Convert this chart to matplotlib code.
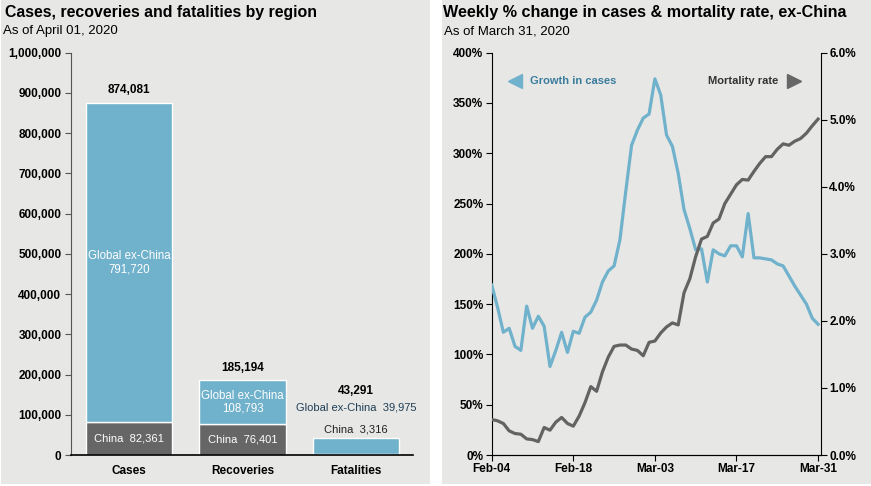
import matplotlib.pyplot as plt
import matplotlib.patches as mpatches
from matplotlib.ticker import FuncFormatter
import numpy as np

plt.rcParams['font.family'] = ['Liberation Sans', 'DejaVu Sans']

# Left panel data
categories = ['Cases', 'Recoveries', 'Fatalities']
china = [82361, 76401, 3316]
global_ex_china = [791720, 108793, 39975]
totals = [874081, 185194, 43291]

# Right panel data (daily, Feb-04 .. Mar-31)
growth_cases = [169, 147, 122, 126, 108, 104, 148, 126, 138, 128,
                88, 104, 122, 102, 123, 121, 137, 142, 154, 172,
                183, 188, 214, 262, 308, 323, 335, 339, 374, 358,
                318, 307, 280, 244, 225, 204, 205, 172, 204, 200,
                198, 208, 208, 197, 240, 196, 196, 195, 194, 190,
                188, 178, 168, 159, 150, 136, 130]
mortality = [0.53, 0.51, 0.47, 0.36, 0.32, 0.31, 0.24, 0.23, 0.20, 0.41,
             0.37, 0.49, 0.56, 0.47, 0.43, 0.58, 0.78, 1.02, 0.95, 1.24,
             1.46, 1.62, 1.64, 1.64, 1.58, 1.56, 1.48, 1.68, 1.70, 1.82,
             1.91, 1.97, 1.94, 2.42, 2.63, 2.96, 3.22, 3.26, 3.46, 3.52,
             3.75, 3.89, 4.03, 4.11, 4.10, 4.23, 4.35, 4.45, 4.45, 4.56,
             4.64, 4.62, 4.68, 4.72, 4.80, 4.91, 5.01]
date_ticks = [0, 14, 28, 42, 56]
date_labels = ['Feb-04', 'Feb-18', 'Mar-03', 'Mar-17', 'Mar-31']

BLUE = '#70b1cb'
DARK = '#666666'
BG = '#e7e7e6'
W, H = 871, 486

fig = plt.figure(figsize=(W / 100, H / 100), dpi=100)
fig.patch.set_facecolor('white')


def px(x0, y0, x1, y1):
    # pixel box (top-left origin) -> figure fraction rect
    return [x0 / W, 1 - y1 / H, (x1 - x0) / W, (y1 - y0) / H]


for x0, x1 in [(1, 430), (442, 871)]:
    fig.patches.append(mpatches.Rectangle((x0 / W, 1 - 484 / H), (x1 - x0) / W, 484 / H,
                                          transform=fig.transFigure, facecolor=BG,
                                          edgecolor='none', zorder=-10))

# Titles
fig.text(5 / W, 1 - 12 / H, 'Cases, recoveries and fatalities by region', fontsize=11.4,
         fontweight='bold', va='center', ha='left')
fig.text(3 / W, 1 - 31 / H, 'As of April 01, 2020', fontsize=9.5, va='center', ha='left')
fig.text(443 / W, 1 - 12 / H, 'Weekly % change in cases & mortality rate, ex-China',
         fontsize=11.6, fontweight='bold', va='center', ha='left')
fig.text(444 / W, 1 - 31 / H, 'As of March 31, 2020', fontsize=9.5, va='center', ha='left')

# ---- Left: stacked bars ----
ax = fig.add_axes(px(71, 52.7, 413, 455))
ax.set_facecolor('none')
x = np.arange(len(categories))
ax.bar(x, china, width=0.76, color=DARK, edgecolor='white', linewidth=1)
ax.bar(x, global_ex_china, bottom=china, width=0.76, color=BLUE, edgecolor='white', linewidth=1)
ax.set_xlim(-0.51, 2.5)
ax.set_ylim(0, 1000000)
ax.set_yticks(np.arange(0, 1000001, 100000))
ax.yaxis.set_major_formatter(FuncFormatter(lambda v, p: f'{int(v):,}'))
ax.set_xticks(x)
ax.set_xticklabels(categories)
for s in ['top', 'right']:
    ax.spines[s].set_visible(False)
ax.spines['left'].set_color('#555555')
ax.spines['bottom'].set_color('black')
ax.spines['bottom'].set_linewidth(1.2)
ax.tick_params(axis='y', length=4, color='#555555', pad=3)
ax.tick_params(axis='x', length=0, pad=7)
for lab in ax.get_xticklabels() + ax.get_yticklabels():
    lab.set_fontsize(8.5)
    lab.set_fontweight('bold')

for i in range(2):
    ax.text(x[i], china[i] / 2, f'China  {china[i]:,}', ha='center', va='center',
            color='white', fontsize=8)
    ax.text(x[i], china[i] + global_ex_china[i] / 2, f'Global ex-China\n{global_ex_china[i]:,}',
            ha='center', va='center', color='white', fontsize=8.3, linespacing=1.1)
    ax.text(x[i], totals[i] + 32000, f'{totals[i]:,}', ha='center', va='center',
            fontsize=8.5, fontweight='bold')
ax.text(x[2], 64000, f'China  {china[2]:,}', ha='center', va='center',
        color='#222222', fontsize=8)
ax.text(x[2], 117000, f'Global ex-China  {global_ex_china[2]:,}', ha='center', va='center',
        color='#1f3f55', fontsize=8)
ax.text(x[2], 159000, f'{totals[2]:,}', ha='center', va='center',
        fontsize=8.5, fontweight='bold')

# ---- Right: dual-axis lines ----
days = np.arange(len(growth_cases))
ax2 = fig.add_axes(px(491.7, 52.7, 821, 455))
ax2.set_facecolor('none')
ax2.plot(days, growth_cases, color=BLUE, linewidth=2.3, zorder=3)
ax2.set_xlim(0, 56.5)
ax2.set_ylim(0, 400)
ax2.set_yticks(np.arange(0, 401, 50))
ax2.yaxis.set_major_formatter(FuncFormatter(lambda v, p: f'{int(v)}%'))
ax2.set_xticks(date_ticks)
ax2.set_xticklabels(date_labels)
ax2.spines['top'].set_visible(False)
ax2.spines['right'].set_visible(False)
ax2.tick_params(axis='y', length=4, pad=2)
ax2.tick_params(axis='x', length=4, pad=2)

ax3 = ax2.twinx()
ax3.plot(days, mortality, color='#636363', linewidth=2.3, zorder=3)
ax3.set_ylim(0, 6)
ax3.set_yticks(np.arange(0, 6.01, 1))
ax3.yaxis.set_major_formatter(FuncFormatter(lambda v, p: f'{v:.1f}%'))
ax3.spines['top'].set_visible(False)
ax3.spines['left'].set_visible(False)
ax3.tick_params(axis='y', length=4, pad=2)
for a in (ax2, ax3):
    for lab in a.get_xticklabels() + a.get_yticklabels():
        lab.set_fontsize(8.5)
        lab.set_fontweight('bold')

# legend-like labels with arrows
ax2.plot([3.95], [371.5], marker='<', markersize=10, color=BLUE, clip_on=False)
ax2.text(6.6, 371.5, 'Growth in cases', color='#3a7c9c', fontsize=8, fontweight='bold',
         va='center', ha='left')
ax2.plot([51.8], [371.5], marker='>', markersize=10, color=DARK, clip_on=False)
ax2.text(49.2, 371.5, 'Mortality rate', color='#333333', fontsize=8, fontweight='bold',
         va='center', ha='right')

fig.savefig('out.png', dpi=100, facecolor='white')
